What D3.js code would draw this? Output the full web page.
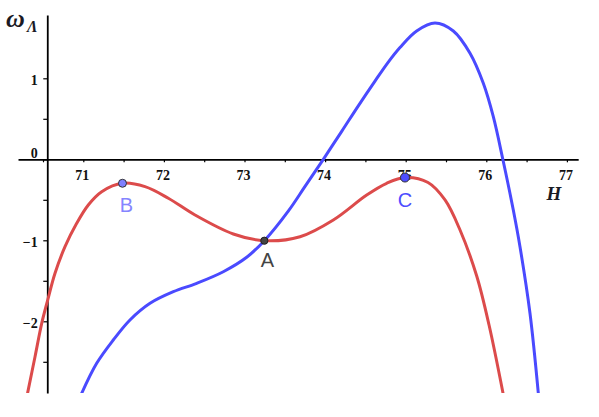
<!DOCTYPE html>
<html>
<head>
<meta charset="utf-8">
<script src="https://cdn.jsdelivr.net/npm/d3@7"></script>
<style>
  html, body { margin: 0; padding: 0; background: #fff; }
  svg { display: block; }
</style>
</head>
<body>
<svg id="chart" width="599" height="417"></svg>
<script>
// ---- data ----
const redH     = [70.310, 70.401, 70.484, 70.553, 70.649, 70.773, 70.918, 71.062, 71.228, 71.486, 71.766, 72.055, 72.386, 72.861, 73.246, 73.689, 74.102, 74.516, 74.764, 74.991, 75.277, 75.488, 75.674, 75.881, 76.034, 76.207];
const redOmega = [-2.881, -2.437, -2.025, -1.758, -1.407, -1.079, -0.790, -0.564, -0.400, -0.296, -0.338, -0.481, -0.688, -0.922, -1.005, -0.956, -0.749, -0.441, -0.296, -0.225, -0.286, -0.502, -0.873, -1.441, -2.046, -2.885];

const blueH     = [70.980, 71.166, 71.372, 71.579, 71.828, 72.117, 72.407, 72.737, 73.027, 73.246, 73.543, 73.751, 73.978, 74.206, 74.412, 74.619, 74.784, 74.929, 75.136, 75.364, 75.591, 75.798, 75.963, 76.087, 76.207, 76.335, 76.418, 76.542, 76.645];
const blueOmega = [-2.889, -2.519, -2.231, -1.984, -1.778, -1.635, -1.531, -1.388, -1.210, -1.005, -0.640, -0.335, 0.000, 0.345, 0.660, 0.965, 1.200, 1.380, 1.585, 1.683, 1.584, 1.309, 0.938, 0.526, -0.009, -0.626, -1.079, -1.901, -2.885];

const pointNames = ["A", "B", "C"];
const pointH     = [73.246, 71.486, 74.991];
const pointOmega = [-1.005, -0.296, -0.225];

const xTicks = [70.5, 71, 71.5, 72, 72.5, 73, 73.5, 74, 74.5, 75, 75.5, 76, 76.5, 77];
const xTickLabels = ["71", "72", "73", "74", "75", "76", "77"];
const yTicks = [-2.5, -2, -1.5, -1, -0.5, 0, 0.5, 1];
const yTickLabels = ["−2", "−1", "0", "1"];

const xAxisTitle = "H";
const yAxisTitle = "ω";
const yAxisSub = "Λ";

// ---- layout ----
const svg = d3.select("#chart");
const xDomain = [70.19, 77.14];
const yDomain = [-2.885, 1.78];
const x = d3.scaleLinear().domain(xDomain).range([83.3 - 0.81 * 80.6, 83.3 + 6.14 * 80.6]);
const y = d3.scaleLinear().domain(yDomain).range([159.3 + 2.885 * 81, 159.3 - 1.78 * 81]);
const yAxisAt = 70.553;

const serif = "'Liberation Serif', 'Times New Roman', serif";
const sans = "'Liberation Sans', Arial, sans-serif";

svg.append("defs").append("clipPath").attr("id", "plotclip")
  .append("rect")
  .attr("x", x(xDomain[0]) - 20).attr("y", y(yDomain[1]))
  .attr("width", x(xDomain[1]) - x(xDomain[0]) + 40)
  .attr("height", y(yDomain[0]) - y(yDomain[1]));

// x axis
const gx = svg.append("g")
  .attr("transform", `translate(0,${y(0)})`)
  .call(d3.axisBottom(x).tickValues(xTicks).tickSize(3).tickSizeOuter(0)
    .tickFormat(d => Number.isInteger(d) && xTickLabels.includes(String(d)) ? String(d) : ""));
gx.select(".domain").attr("stroke", "#000").attr("stroke-width", 1.8);
gx.selectAll(".tick line").attr("stroke", "#000").attr("stroke-width", 1.2);
gx.selectAll(".tick text")
  .attr("y", 20.7).attr("dy", 0).attr("x", -1.5)
  .attr("fill", "#111")
  .style("font-family", serif).style("font-weight", "bold").style("font-size", "14px");

// y axis
const yLabelFor = d => {
  const s = Number.isInteger(d) ? (d < 0 ? "−" + Math.abs(d) : String(d)) : "";
  return yTickLabels.includes(s) ? s : "";
};
const gy = svg.append("g")
  .attr("transform", `translate(${x(yAxisAt)},0)`)
  .call(d3.axisLeft(y).tickValues(yTicks).tickSize(4).tickSizeOuter(0).tickFormat(yLabelFor));
gy.select(".domain").attr("stroke", "#000").attr("stroke-width", 1.8);
gy.selectAll(".tick line").attr("stroke", "#000").attr("stroke-width", 1.2);
gy.selectAll(".tick text")
  .attr("x", -9.5).attr("dy", 0)
  .attr("y", d => d === 0 ? -2 : 6.5)
  .attr("fill", "#111")
  .style("font-family", serif).style("font-weight", "bold").style("font-size", "14px");

// curves
const line = d3.line().x(d => x(d[0])).y(d => y(d[1])).curve(d3.curveCatmullRom.alpha(0.5));
const plot = svg.append("g").attr("clip-path", "url(#plotclip)");
plot.append("path")
  .datum(redH.map((h, i) => [h, redOmega[i]]))
  .attr("d", line).attr("fill", "none")
  .attr("stroke", "#dc4b4b").attr("stroke-width", 3).attr("stroke-linecap", "round");
plot.append("path")
  .datum(blueH.map((h, i) => [h, blueOmega[i]]))
  .attr("d", line).attr("fill", "none")
  .attr("stroke", "#4a4aff").attr("stroke-width", 3).attr("stroke-linecap", "round");

// points
const pStyle = {
  A: { r: 3.6, fill: "#444", stroke: "#222", label: "#444", dx: 3, dy: 26 },
  B: { r: 4, fill: "#8080ff", stroke: "#333", label: "#8585ff", dx: 4, dy: 28.5 },
  C: { r: 4.5, fill: "#4d4dff", stroke: "#333", label: "#4d4dff", dx: 0, dy: 29 }
};
pointNames.forEach((n, i) => {
  const st = pStyle[n];
  svg.append("circle")
    .attr("cx", x(pointH[i])).attr("cy", y(pointOmega[i])).attr("r", st.r)
    .attr("fill", st.fill).attr("stroke", st.stroke).attr("stroke-width", 1);
  svg.append("text")
    .attr("x", x(pointH[i]) + st.dx).attr("y", y(pointOmega[i]) + st.dy)
    .attr("text-anchor", "middle").attr("fill", st.label)
    .style("font-family", sans).style("font-size", "20px")
    .text(n);
});

// axis titles
svg.append("text").attr("x", 6).attr("y", 27)
  .attr("fill", "#1a1a24")
  .style("font-family", serif).style("font-weight", "bold").style("font-style", "italic")
  .style("font-size", "26px")
  .text(yAxisTitle);
svg.append("text").attr("x", 27).attr("y", 32)
  .attr("fill", "#1a1a24")
  .style("font-family", serif).style("font-weight", "bold").style("font-style", "italic")
  .style("font-size", "16px")
  .text(yAxisSub);

svg.append("text").attr("x", 554).attr("y", 200)
  .attr("text-anchor", "middle").attr("fill", "#1a1a24")
  .style("font-family", serif).style("font-weight", "bold").style("font-style", "italic")
  .style("font-size", "19px")
  .text(xAxisTitle);
</script>
</body>
</html>
